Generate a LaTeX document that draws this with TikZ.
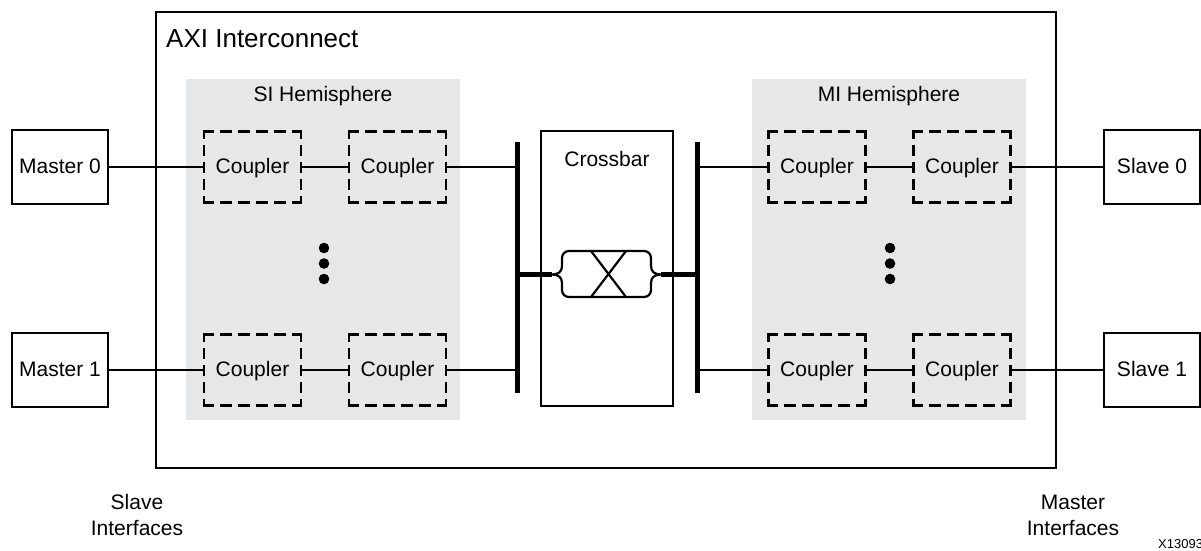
\documentclass[tikz,border=0pt]{standalone}
\usepackage{fontspec}
\setmainfont{Liberation Sans}
\definecolor{hemigray}{RGB}{230,231,232}
\tikzset{
  box/.style={draw, line width=2.4pt, rectangle, inner sep=0pt, outer sep=0pt, minimum width=96pt, minimum height=74pt, text height=15.5pt, text depth=2pt, font=\fontsize{21}{25}\selectfont},
  cpl/.style={rectangle, inner sep=0pt, outer sep=0pt, minimum width=97pt, minimum height=71pt, text height=15.5pt, text depth=2pt, font=\fontsize{21}{25}\selectfont},
  hemi/.style={fill=hemigray, inner sep=0pt, outer sep=0pt, minimum width=274pt, minimum height=341pt},
  conn/.style={line width=2.2pt},
  busbar/.style={fill=black, inner sep=0pt, outer sep=0pt, minimum width=5pt, minimum height=251pt},
  lbl/.style={font=\fontsize{21}{26}\selectfont, anchor=base, inner sep=0pt},
  dotmark/.style={circle, fill=black, inner sep=0pt, minimum size=10.6pt},
  dh/.style={line width=2.4pt, dash pattern=on 10.75pt off 6pt on 12pt off 6pt on 12pt off 6pt on 12pt off 6pt on 12pt off 6pt on 10.75pt off 20pt},
  dv/.style={line width=2.4pt, dash pattern=on 8.25pt off 6pt on 11pt off 6pt on 11pt off 6pt on 11pt off 6pt on 8.25pt off 20pt},
}
\newcommand\cplframe[1]{%
  \draw[dh] ([xshift=-1.2pt]#1.north west) -- ([xshift=1.2pt]#1.north east);
  \draw[dh] ([xshift=-1.2pt]#1.south west) -- ([xshift=1.2pt]#1.south east);
  \draw[dv] ([yshift=1.2pt]#1.north west) -- ([yshift=-1.2pt]#1.south west);
  \draw[dv] ([yshift=1.2pt]#1.north east) -- ([yshift=-1.2pt]#1.south east);
}
\begin{document}
\begin{tikzpicture}[x=1pt,y=-1pt]
\useasboundingbox (0,0) rectangle (1201,550);
% outer interconnect box
\node[draw, line width=2.2pt, inner sep=0pt, outer sep=0pt, minimum width=900pt, minimum height=456pt] (axi) at (606,240) {};
\node[font=\fontsize{26}{30}\selectfont, anchor=base west, inner sep=0pt] (axit) at (166,47) {AXI Interconnect};
% hemispheres
\node[hemi] (sih) at (323,249.5) {};
\node[hemi] (mih) at (889,249.5) {};
\node[lbl] (sit) at (323,101) {SI Hemisphere};
\node[lbl] (mit) at (889,101) {MI Hemisphere};
% masters and slaves
\node[box] (m0) at (60,167) {Master 0};
\node[box] (m1) at (60,370) {Master 1};
\node[box] (s0) at (1152,167) {Slave 0};
\node[box] (s1) at (1152,370) {Slave 1};
% couplers
\node[cpl] (c11) at (252.5,167) {Coupler};
\node[cpl] (c12) at (397.5,167) {Coupler};
\node[cpl] (c21) at (252.5,370) {Coupler};
\node[cpl] (c22) at (397.5,370) {Coupler};
\node[cpl] (c13) at (817,167) {Coupler};
\node[cpl] (c14) at (962,167) {Coupler};
\node[cpl] (c23) at (817,370) {Coupler};
\node[cpl] (c24) at (962,370) {Coupler};
\cplframe{c11}\cplframe{c12}\cplframe{c21}\cplframe{c22}
\cplframe{c13}\cplframe{c14}\cplframe{c23}\cplframe{c24}
% dots
\node[dotmark] (d1) at (324,248) {};
\node[dotmark] (d2) at (324,263.5) {};
\node[dotmark] (d3) at (324,279) {};
\node[dotmark] (d4) at (890,248) {};
\node[dotmark] (d5) at (890,263.5) {};
\node[dotmark] (d6) at (890,279) {};
% crossbar
\node[draw, line width=2.4pt, inner sep=0pt, outer sep=0pt, minimum width=132pt, minimum height=275pt] (xbar) at (607,268.5) {};
\node[lbl] (xbt) at (607,166) {Crossbar};
% bus bars
\node[busbar] (busL) at (517.5,267.5) {};
\node[busbar] (busR) at (697,267.5) {};
% switch symbol
\coordinate (xl) at (552,274.5);
\coordinate (xr) at (661,274.5);
\draw[conn] (xl) .. controls (558,274.5) and (562,272) .. (562,266) -- (562,258)
  .. controls (562,254.1) and (565.1,251) .. (569,251) -- (644,251)
  .. controls (647.9,251) and (651,254.1) .. (651,258) -- (651,266)
  .. controls (651,272) and (655,274.5) .. (xr)
  .. controls (655,274.5) and (651,277) .. (651,283) -- (651,290)
  .. controls (651,293.9) and (647.9,297) .. (644,297) -- (569,297)
  .. controls (565.1,297) and (562,293.9) .. (562,290) -- (562,283)
  .. controls (562,277) and (558,274.5) .. (xl);
\draw[conn] (591,251) -- (626,297);
\draw[conn] (626,251) -- (591,297);
\draw[line width=4.5pt] (busL.center |- xl) -- (xl);
\draw[line width=4.5pt] (xr) -- (busR.center |- xr);
% connectors SI
\draw[conn] (m0.east) -- (c11.west);
\draw[conn] (c11.east) -- (c12.west);
\draw[conn] (c12.east) -- (c12.east -| busL.center);
\draw[conn] (m1.east) -- (c21.west);
\draw[conn] (c21.east) -- (c22.west);
\draw[conn] (c22.east) -- (c22.east -| busL.center);
% connectors MI
\draw[conn] (busR.center |- c13.west) -- (c13.west);
\draw[conn] (c13.east) -- (c14.west);
\draw[conn] (c14.east) -- (s0.west);
\draw[conn] (busR.center |- c23.west) -- (c23.west);
\draw[conn] (c23.east) -- (c24.west);
\draw[conn] (c24.east) -- (s1.west);
% interface labels
\node[lbl, align=center] (slt) at (137,535) {Slave\\Interfaces};
\node[lbl, align=center] (mat) at (1073,535) {Master\\Interfaces};
\node[font=\fontsize{13}{15}\selectfont, anchor=base west, inner sep=0pt] (fig) at (1158,548) {X13093};
\end{tikzpicture}
\end{document}
